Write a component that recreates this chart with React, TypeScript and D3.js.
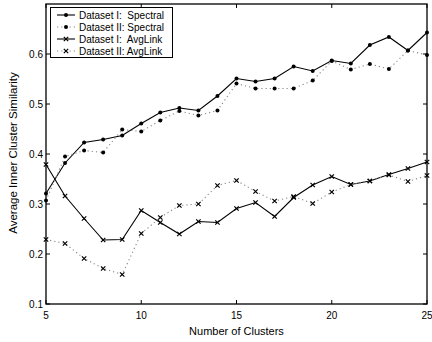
import React from "react";
import * as d3 from "d3";

const clusters = d3.range(5, 26);
const spectralI = [0.321, 0.382, 0.423, 0.429, 0.437, 0.461, 0.483, 0.492, 0.487, 0.516, 0.551, 0.545, 0.551, 0.575, 0.566, 0.587, 0.581, 0.618, 0.634, 0.607, 0.643];
const spectralII = [0.307, 0.395, 0.407, 0.403, 0.449, 0.445, 0.467, 0.486, 0.477, 0.487, 0.541, 0.531, 0.531, 0.531, 0.547, 0.586, 0.569, 0.580, 0.570, 0.607, 0.598];
const avgLinkI = [0.379, 0.316, 0.271, 0.228, 0.229, 0.287, 0.263, 0.240, 0.265, 0.263, 0.291, 0.303, 0.275, 0.313, 0.338, 0.355, 0.339, 0.346, 0.359, 0.371, 0.384];
const avgLinkII = [0.229, 0.221, 0.191, 0.171, 0.159, 0.241, 0.273, 0.297, 0.300, 0.337, 0.347, 0.325, 0.306, 0.315, 0.301, 0.324, 0.339, 0.346, 0.358, 0.345, 0.357];

const xTicks = [5, 10, 15, 20, 25];
const yTicks = [0.1, 0.2, 0.3, 0.4, 0.5, 0.6];

const W = 432;
const H = 342;
const left = 46;
const right = 427;
const top = 4;
const bottom = 304;
const font = "'Liberation Sans', Arial, Helvetica, sans-serif";

type Series = { name: string; values: number[]; dotted: boolean; marker: "dot" | "x" };
const series: Series[] = [
  { name: "Dataset I:  Spectral", values: spectralI, dotted: false, marker: "dot" },
  { name: "Dataset II: Spectral", values: spectralII, dotted: true, marker: "dot" },
  { name: "Dataset I:  AvgLink", values: avgLinkI, dotted: false, marker: "x" },
  { name: "Dataset II: AvgLink", values: avgLinkII, dotted: true, marker: "x" },
];

function Marker({ x, y, kind }: { x: number; y: number; kind: "dot" | "x" }) {
  if (kind === "dot") return <circle cx={x} cy={y} r={2} fill="#000" />;
  const s = 2.2;
  return (
    <path
      d={`M${x - s},${y - s}L${x + s},${y + s}M${x - s},${y + s}L${x + s},${y - s}`}
      stroke="#000"
      strokeWidth={1.2}
    />
  );
}

export default function App() {
  const x = d3.scaleLinear().domain([5, 25]).range([left, right]);
  const y = d3.scaleLinear().domain([0.1, 0.7]).range([bottom, top]);
  const line = d3
    .line<number>()
    .x((_, i) => x(clusters[i]))
    .y((d) => y(d));

  const tickLen = 4;

  return (
    <svg
      width={W}
      height={H}
      style={{ position: "absolute", left: 0, top: 0, background: "#fff" }}
      fontFamily={font}
    >
      <rect x={0} y={0} width={W} height={H} fill="#fff" />

      {series.map((s) => (
        <g key={s.name}>
          <path
            d={line(s.values) || ""}
            fill="none"
            stroke={s.dotted ? "#888" : "#000"}
            strokeWidth={1.1}
            strokeDasharray={s.dotted ? "1.2,3" : undefined}
          />
          {s.values.map((v, i) => (
            <Marker key={i} x={x(clusters[i])} y={y(v)} kind={s.marker} />
          ))}
        </g>
      ))}

      {/* ticks on all four sides, pointing inward */}
      {xTicks.map((t) => (
        <g key={"xt" + t}>
          <line x1={x(t)} x2={x(t)} y1={bottom} y2={bottom - tickLen} stroke="#000" />
          <line x1={x(t)} x2={x(t)} y1={top} y2={top + tickLen} stroke="#000" />
          <text x={x(t)} y={bottom + 15} fontSize={10} textAnchor="middle" fill="#000">
            {t}
          </text>
        </g>
      ))}
      {yTicks.map((t) => (
        <g key={"yt" + t}>
          <line x1={left} x2={left + tickLen} y1={y(t)} y2={y(t)} stroke="#000" />
          <line x1={right} x2={right - tickLen} y1={y(t)} y2={y(t)} stroke="#000" />
          <text x={left - 3} y={y(t) + 3.5} fontSize={10} textAnchor="end" fill="#000">
            {t.toFixed(1)}
          </text>
        </g>
      ))}

      <rect
        x={left}
        y={top}
        width={right - left}
        height={bottom - top}
        fill="none"
        stroke="#000"
        strokeWidth={1.3}
      />

      {/* legend */}
      <g>
        <rect x={50.5} y={7.5} width={122} height={50} fill="#fff" stroke="#000" strokeWidth={1} />
        {series.map((s, i) => {
          const ly = 15 + i * 12;
          return (
            <g key={"lg" + i}>
              <line
                x1={57}
                x2={75}
                y1={ly}
                y2={ly}
                stroke={s.dotted ? "#888" : "#000"}
                strokeWidth={1.1}
                strokeDasharray={s.dotted ? "1.2,3" : undefined}
              />
              <Marker x={66} y={ly} kind={s.marker} />
              <text x={79} y={ly + 3.5} fontSize={10} fill="#000" style={{ whiteSpace: "pre" }}>
                {s.name}
              </text>
            </g>
          );
        })}
      </g>

      <text x={(left + right) / 2} y={335} fontSize={11} textAnchor="middle" fill="#000">
        Number of Clusters
      </text>
      <text
        transform={`translate(17,153) rotate(-90)`}
        fontSize={11.5}
        textAnchor="middle"
        fill="#000"
      >
        Average Inner Cluster Similarity
      </text>
    </svg>
  );
}
